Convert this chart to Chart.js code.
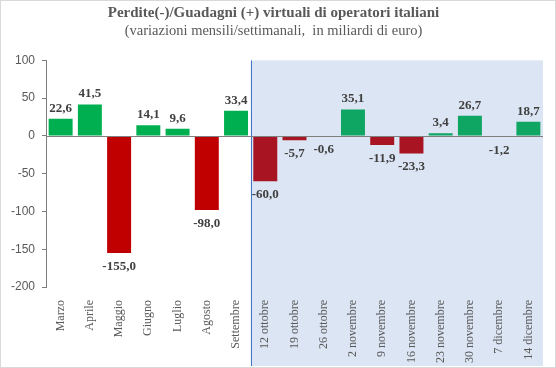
<!DOCTYPE html>
<html>
<head>
<meta charset="utf-8">
<script src="https://cdn.jsdelivr.net/npm/chart.js@4.4.0/dist/chart.umd.min.js"></script>
<style>
  body { margin: 0; background: #fff; }
  #box { width: 556px; height: 368px; }
</style>
</head>
<body>
<div id="box"><canvas id="grafico" width="556" height="368"></canvas></div>
<script>
// dati
var periodi = ['Marzo', 'Aprile', 'Maggio', 'Giugno', 'Luglio', 'Agosto', 'Settembre',
    '12 ottobre', '19 ottobre', '26 ottobre', '2 novembre', '9 novembre', '16 novembre',
    '23 novembre', '30 novembre', '7 dicembre', '14 dicembre'];
var valori = [22.6, 41.5, -155.0, 14.1, 9.6, -98.0, 33.4,
    -60.0, -5.7, -0.6, 35.1, -11.9, -23.3, 3.4, 26.7, -1.2, 18.7];
var numMensili = 7; // i primi 7 sono mensili, poi settimanali
var tickAsseY = [-200, -150, -100, -50, 0, 50, 100];

var colori = valori.map(function (v, i) {
    if (i < numMensili) return v >= 0 ? '#00B050' : '#C00000';
    return v >= 0 ? '#0FA562' : '#A81422';
});

// area azzurra delle settimane + linea dello zero + etichette
const pluginSfondo = {
    id: 'sfondo',
    beforeDraw(chart) {
        const ctx = chart.ctx;
        const x = chart.scales.x;
        const area = chart.chartArea;
        const passo = x.getPixelForValue(1) - x.getPixelForValue(0);
        const inizio = x.getPixelForValue(numMensili) - passo / 2;
        const fine = x.getPixelForValue(periodi.length - 1) + passo / 2;
        ctx.save();
        ctx.fillStyle = '#DCE5F4';
        ctx.fillRect(inizio, area.top, fine - inizio, chart.height - 2 - area.top);
        ctx.strokeStyle = '#4472C4';
        ctx.lineWidth = 1;
        ctx.beginPath();
        ctx.moveTo(Math.round(inizio) + 0.5, area.top);
        ctx.lineTo(Math.round(inizio) + 0.5, chart.height - 2);
        ctx.stroke();
        ctx.restore();
    },
    afterDatasetsDraw(chart) {
        const ctx = chart.ctx;
        const y = chart.scales.y;
        const area = chart.chartArea;
        const y0 = Math.round(y.getPixelForValue(0)) + 0.5;
        ctx.save();
        ctx.strokeStyle = '#7F7F7F';
        ctx.lineWidth = 1;
        ctx.beginPath();
        ctx.moveTo(area.left, y0);
        ctx.lineTo(area.right, y0);
        ctx.stroke();

        ctx.font = 'bold 13px "Liberation Serif"';
        ctx.fillStyle = '#404040';
        ctx.textAlign = 'center';
        const meta = chart.getDatasetMeta(0);
        meta.data.forEach(function (barra, i) {
            const testo = valori[i].toFixed(1).replace('.', ',');
            if (valori[i] >= 0) {
                ctx.textBaseline = 'bottom';
                ctx.fillText(testo, barra.x, barra.y - 4);
            } else {
                ctx.textBaseline = 'top';
                ctx.fillText(testo, barra.x, barra.y + 7);
            }
        });

        ctx.strokeStyle = '#D9D9D9';
        ctx.strokeRect(0.5, 0.5, chart.width - 1, chart.height - 1);
        ctx.restore();
    }
};

const config = {
    type: 'bar',
    data: {
        labels: periodi,
        datasets: [{
            data: valori,
            backgroundColor: colori,
            categoryPercentage: 0.82,
            barPercentage: 1.0
        }]
    },
    options: {
        responsive: false,
        animation: false,
        layout: { padding: { left: 4, right: 13, top: 0, bottom: 0 } },
        plugins: {
            legend: { display: false },
            tooltip: { enabled: false },
            title: {
                display: true,
                text: 'Perdite(-)/Guadagni (+) virtuali di operatori italiani',
                color: '#595959',
                font: { family: '"Liberation Serif"', size: 15, weight: 'bold' },
                padding: { top: 4, bottom: 0 }
            },
            subtitle: {
                display: true,
                text: '(variazioni mensili/settimanali,  in miliardi di euro)',
                color: '#595959',
                font: { family: '"Liberation Serif"', size: 14.5 },
                padding: { top: 0, bottom: 21 }
            }
        },
        scales: {
            x: {
                grid: { display: false },
                border: { display: false },
                ticks: {
                    color: '#595959',
                    font: { family: '"Liberation Serif"', size: 12 },
                    minRotation: 90,
                    maxRotation: 90,
                    autoSkip: false,
                    padding: 5
                }
            },
            y: {
                min: -200,
                max: 100,
                afterBuildTicks(scale) {
                    scale.ticks = tickAsseY.map(function (v) { return { value: v }; });
                },
                grid: { drawOnChartArea: false, drawTicks: true, tickLength: 4, color: '#7F7F7F' },
                border: { display: true, color: '#7F7F7F' },
                ticks: {
                    color: '#595959',
                    font: { family: '"Liberation Sans"', size: 12 },
                    padding: 7
                }
            }
        }
    },
    plugins: [pluginSfondo]
};

new Chart(document.getElementById('grafico'), config);
</script>
</body>
</html>
